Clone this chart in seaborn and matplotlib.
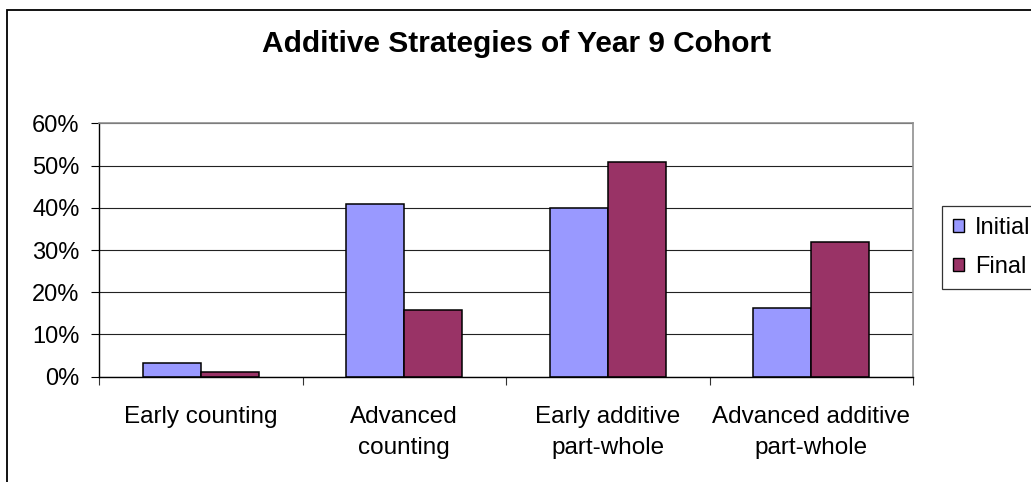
import matplotlib
matplotlib.use("Agg")
import matplotlib.pyplot as plt
import matplotlib.patches as mpatches
from matplotlib.ticker import FixedLocator, PercentFormatter
import seaborn as sns
import pandas as pd

# Share of students using each additive strategy (percent)
categories = ["Early counting", "Advanced\ncounting", "Early additive\npart-whole", "Advanced additive\npart-whole"]
initial = [3.2, 40.9, 40.0, 16.3]
final = [1.0, 15.8, 50.9, 31.8]
series = ["Initial", "Final"]
colors = ["#9999FF", "#993366"]

df = pd.DataFrame({
    "Strategy": categories * 2,
    "Share": initial + final,
    "Stage": [series[0]] * len(categories) + [series[1]] * len(categories),
})

sns.set_theme(style="white")
plt.rcParams["font.family"] = ["Liberation Sans", "DejaVu Sans"]

W, H = 1031, 482
fig = plt.figure(figsize=(W / 100, H / 100), dpi=100)
ax = fig.add_axes([99 / W, 1 - 376.7 / H, (913 - 99) / W, (376.7 - 123.3) / H])

sns.barplot(data=df, x="Strategy", y="Share", hue="Stage", hue_order=series,
            palette=colors, width=0.57, edgecolor="black", linewidth=1.1,
            saturation=1, ax=ax, legend=False)

ax.set_xlim(-0.5, 3.5)
ax.set_ylim(0, 60)
ax.set_xlabel("")
ax.set_ylabel("")

# y axis: percent ticks with gridlines
ax.yaxis.set_major_locator(FixedLocator(range(0, 61, 10)))
ax.yaxis.set_major_formatter(PercentFormatter(decimals=0))
ax.grid(axis="y", color="#222222", linewidth=0.8)
ax.set_axisbelow(True)
ax.tick_params(axis="y", which="major", left=True, length=6, width=0.8,
               color="black", labelsize=17, pad=8, labelcolor="black")

# x axis: labels centred, tick marks at category boundaries
ax.xaxis.set_minor_locator(FixedLocator([-0.5, 0.5, 1.5, 2.5, 3.5]))
ax.tick_params(axis="x", which="major", bottom=False, labelsize=17.5, pad=15,
               labelcolor="black")
ax.tick_params(axis="x", which="minor", bottom=True, length=5.8, width=0.8,
               color="#333333")
for lab in ax.get_xticklabels():
    lab.set_linespacing(1.55)

for side in ["top", "right"]:
    ax.spines[side].set_visible(True)
    ax.spines[side].set_color("#909090")
    ax.spines[side].set_linewidth(1.2)
for side in ["left", "bottom"]:
    ax.spines[side].set_color("black")
    ax.spines[side].set_linewidth(1.0)

fig.text(517 / W, 1 - 44 / H, "Additive Strategies of Year 9 Cohort",
         ha="center", va="center", fontsize=21.5, fontweight="bold", color="black")

handles = [mpatches.Patch(facecolor=c, edgecolor="black", linewidth=1.0) for c in colors]
leg = fig.legend(handles, series, loc="upper left",
                 bbox_to_anchor=(942 / W, 1 - 206 / H), fontsize=17,
                 frameon=True, fancybox=False, handlelength=0.47, handleheight=0.47,
                 handletextpad=0.47, labelspacing=0.75, borderpad=0.45,
                 borderaxespad=0)
leg.get_frame().set_edgecolor("black")
leg.get_frame().set_linewidth(0.9)
for t in leg.get_texts():
    t.set_color("black")

# outer chart border
fig.patches.append(mpatches.Rectangle((7 / W, -0.1), 1.2, 1 - 10 / H + 0.1,
                                      transform=fig.transFigure, fill=False,
                                      edgecolor="black", linewidth=1.3))

fig.savefig("out.png", dpi=100)
